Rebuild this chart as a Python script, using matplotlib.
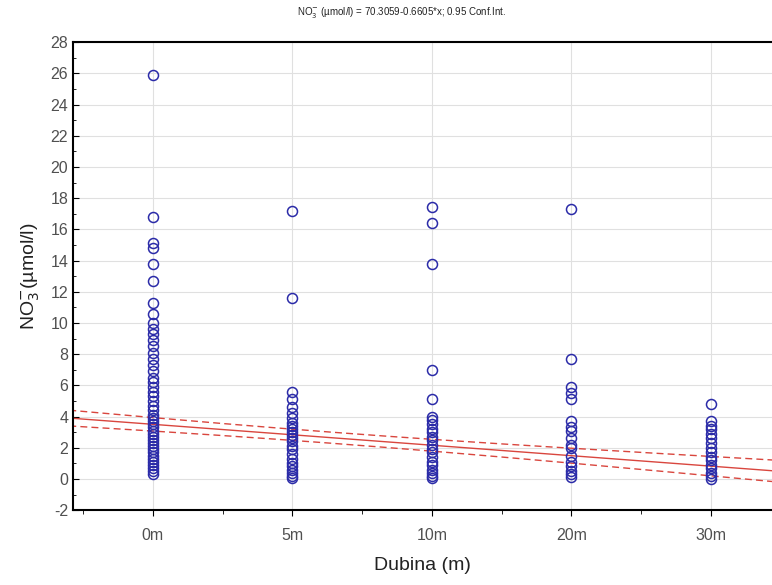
import numpy as np
import matplotlib
matplotlib.use("Agg")
import matplotlib.pyplot as plt
from matplotlib.ticker import MultipleLocator

plt.rcParams['font.family'] = ['Liberation Sans', 'DejaVu Sans']
plt.rcParams['axes.unicode_minus'] = False

categories = ["0m", "5m", "10m", "20m", "30m"]

no3_0m = [0.3, 0.5, 0.7, 0.9, 1.1, 1.3, 1.5, 1.7, 1.9, 2.1, 2.3, 2.5, 2.7,
          2.9, 3.1, 3.3, 3.5, 3.7, 3.9, 4.1, 4.4, 4.7, 5.0, 5.3, 5.6, 5.9,
          6.2, 6.5, 6.9, 7.3, 7.7, 8.1, 8.5, 8.9, 9.3, 9.6, 10.0, 10.6, 11.3,
          12.7, 13.8, 14.8, 15.1, 16.8, 25.9]
no3_5m = [0.05, 0.2, 0.4, 0.6, 0.8, 1.0, 1.3, 1.6, 1.9, 2.1, 2.4, 2.6, 2.8,
          3.0, 3.2, 3.4, 3.6, 3.9, 4.2, 4.6, 5.1, 5.6, 11.6, 17.2]
no3_10m = [0.05, 0.2, 0.4, 0.6, 0.9, 1.1, 1.4, 1.7, 1.9, 2.2, 2.5, 2.7, 3.0,
           3.2, 3.5, 3.8, 4.0, 5.1, 7.0, 13.8, 16.4, 17.4]
no3_20m = [0.1, 0.3, 0.5, 0.8, 1.1, 1.5, 2.0, 2.2, 2.6, 3.1, 3.3, 3.7, 5.1,
           5.5, 5.9, 7.7, 17.3]
no3_30m = [0.0, 0.2, 0.4, 0.7, 0.9, 1.2, 1.4, 1.7, 2.0, 2.3, 2.6, 2.9, 3.2,
           3.4, 3.7, 4.8]
columns = [no3_0m, no3_5m, no3_10m, no3_20m, no3_30m]

# fitted line (in category index units) and 0.95 conf. band
fit_intercept = 3.5
fit_slope = -0.67
ci_a, ci_b, ci_center = 0.126, 0.0355, 1.3

fig = plt.figure(figsize=(7.72, 5.85), dpi=100)
ax = fig.add_axes([0.0946, 0.128, 0.9054, 0.8])

for i, vals in enumerate(columns):
    ax.plot([i] * len(vals), vals, 'o', mfc='none', mec='#2b2ba8',
            ms=7.2, mew=1.1, zorder=3)

xs = np.linspace(-0.6, 4.5, 200)
yfit = fit_intercept + fit_slope * xs
half = np.sqrt(ci_a + ci_b * (xs - ci_center) ** 2)
ax.plot(xs, yfit, '-', color='#d9463e', lw=1.0, zorder=2)
ax.plot(xs, yfit + half, '--', color='#d9463e', lw=1.0, dashes=(5, 3), zorder=2)
ax.plot(xs, yfit - half, '--', color='#d9463e', lw=1.0, dashes=(5, 3), zorder=2)

ax.set_xlim(-0.573, 4.44)
ax.set_ylim(-2, 28)
ax.set_xticks(range(len(categories)))
ax.set_xticklabels(categories)
ax.xaxis.set_minor_locator(MultipleLocator(0.5))
ax.yaxis.set_major_locator(MultipleLocator(2))
ax.yaxis.set_minor_locator(MultipleLocator(1))
ax.grid(True, which='major', color='#e0e0e0', lw=0.8, zorder=0)

ax.tick_params(axis='y', which='both', direction='in', right=False,
               labelsize=11.5, labelcolor='#505050', color='black')
ax.tick_params(axis='y', which='major', length=4)
ax.tick_params(axis='y', which='minor', length=2)
ax.tick_params(axis='x', which='both', direction='out', top=False,
               labelsize=11.5, labelcolor='#505050', color='black', pad=9)
ax.tick_params(axis='x', which='major', length=4)
ax.tick_params(axis='x', which='minor', length=3)

for s in ['left', 'bottom', 'top']:
    ax.spines[s].set_linewidth(1.5)
    ax.spines[s].set_color('black')
ax.spines['right'].set_visible(False)

ax.set_xlabel("Dubina (m)", fontsize=14, color='#222222', labelpad=10)
ax.set_ylabel("NO$_3^{-}$(µmol/l)", fontsize=14, color='#222222', labelpad=6)
fig.text(0.52, 0.978, "NO$_3^{-}$ (µmol/l) = 70.3059-0.6605*x; 0.95 Conf.Int.",
         ha='center', va='center', fontsize=7, color='#222222')

fig.savefig("out.png", dpi=100, facecolor='white')
